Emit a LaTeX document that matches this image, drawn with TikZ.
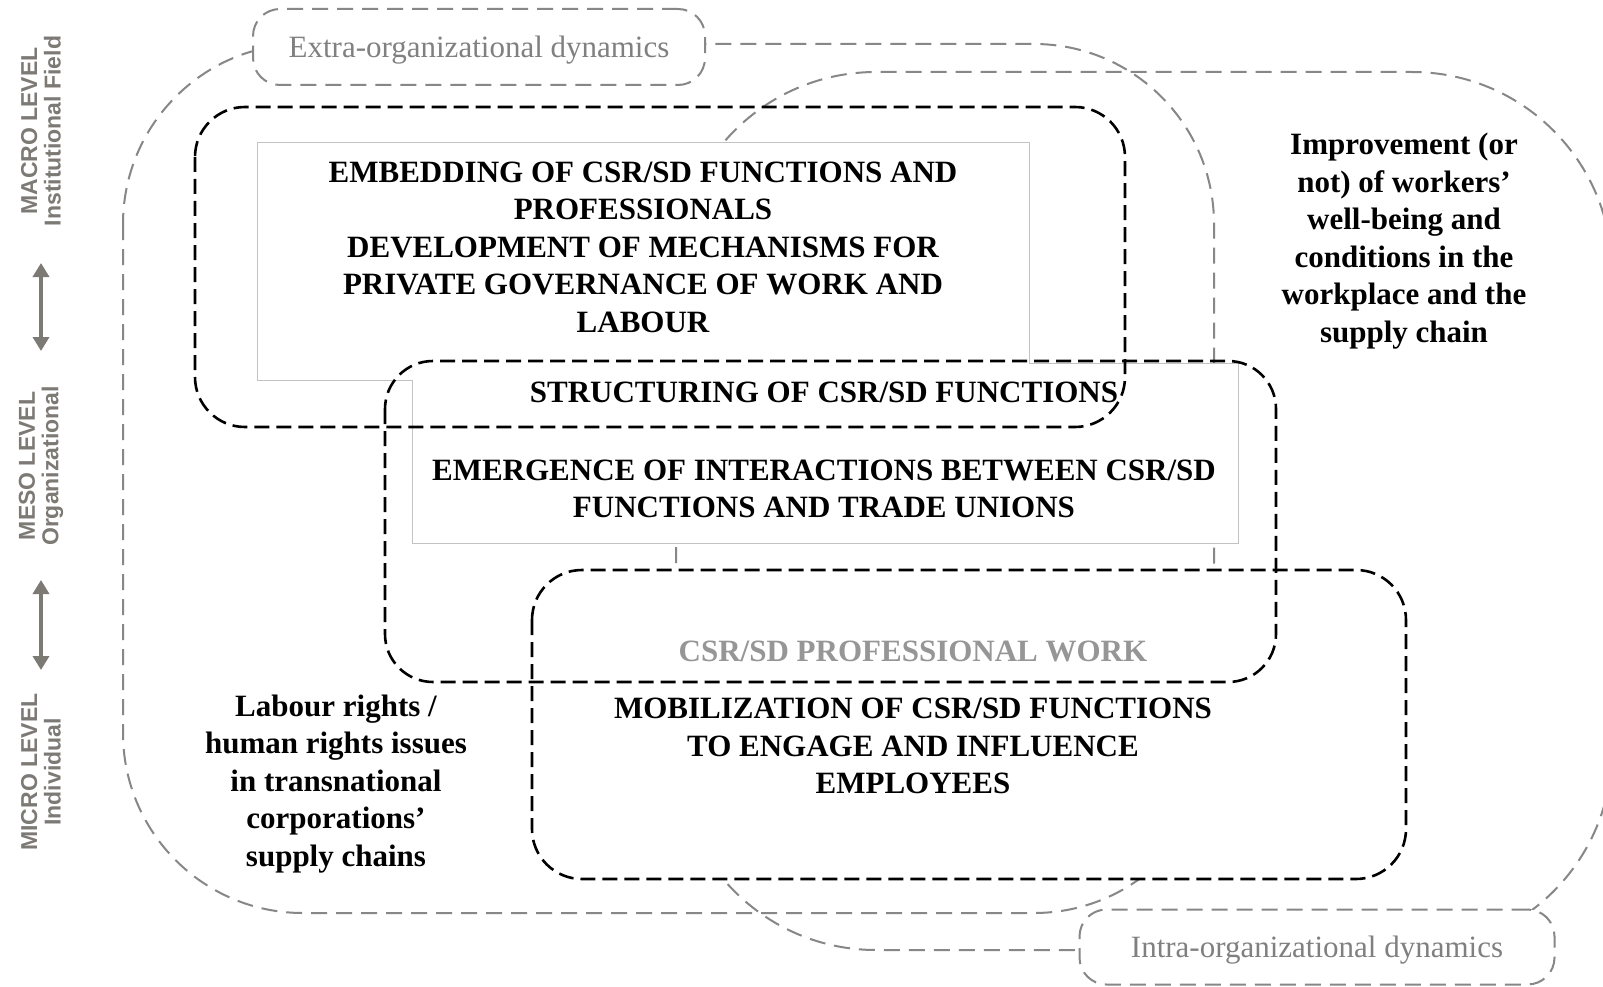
\documentclass[tikz,border=0pt]{standalone}
\usepackage{fontspec}
\setmainfont{Liberation Serif}
\newfontfamily\labelfont{Liberation Sans}
\usetikzlibrary{arrows.meta}
\definecolor{dashgray}{RGB}{135,135,135}
\definecolor{txtgray}{RGB}{128,128,128}
\definecolor{lvlgray}{RGB}{125,122,118}
\definecolor{rectgray}{RGB}{195,195,195}
\definecolor{profgray}{RGB}{150,150,150}
\begin{document}
\begin{tikzpicture}[x=1pt,y=-1pt,
  graydash/.style={draw=dashgray, line width=2pt, dash pattern=on 16pt off 9pt},
  blackdash/.style={draw=black, line width=2.6pt, dash pattern=on 15pt off 7pt},
  boldtxt/.style={font=\fontsize{31}{37.5}\selectfont\bfseries, align=center, inner sep=0pt},
  dynnode/.style={graydash, fill=white, rounded corners=27pt, inner sep=0pt,
    text depth=0pt, font=\fontsize{31}{37}\selectfont, text=txtgray},
  lvl/.style={rotate=90, align=center, inner sep=0pt, text=lvlgray,
    font=\labelfont\bfseries\fontsize{23}{23.5}\selectfont},
  lvlarrow/.style={draw=lvlgray, line width=4.5pt,
    {Triangle[width=16pt,length=14pt]}-{Triangle[width=16pt,length=14pt]}}
]
\useasboundingbox (0,0) rectangle (1603,987);
\fill[white] (0,0) rectangle (1603,987);

% gray dynamics outlines
\begin{scope}
\clip (0,0) rectangle (1603,987);
\draw[graydash, rounded corners=180pt] (123,44) rectangle (1214,913);
\draw[graydash, rounded corners=200pt] (676,72) rectangle (1612,950);
\end{scope}

% inner text panels (white, thin border)
\draw[draw=rectgray, line width=1pt, fill=white]
  (257,143) -- (1029,143) -- (1029,363) -- (1238,363) -- (1238,543)
  -- (412,543) -- (412,380) -- (257,380) -- cycle;

% white background of the bottom box
\fill[white, rounded corners=50pt] (532,570) rectangle (1406,879);

% black dashed boxes
\draw[blackdash, rounded corners=50pt] (195,107) rectangle (1125,427);
\draw[blackdash, rounded corners=48pt] (385,361) rectangle (1276,682);
\draw[blackdash, rounded corners=50pt] (532,570) rectangle (1406,879);

% dynamics labels
\node[dynnode, minimum width=452pt, minimum height=76pt] (extra) at (479,47)
  {Extra-organizational dynamics};
\node[dynnode, minimum width=475pt, minimum height=75pt] (intra) at (1317,947)
  {Intra-organizational dynamics};

% main texts
\node[boldtxt] (embed) at (643,247)
  {EMBEDDING OF CSR/SD FUNCTIONS AND\\PROFESSIONALS\\DEVELOPMENT OF MECHANISMS FOR\\PRIVATE GOVERNANCE OF WORK AND\\LABOUR};
\node[boldtxt] (struct) at (824,392) {STRUCTURING OF CSR/SD FUNCTIONS};
\node[boldtxt] (emerg) at (824,489)
  {EMERGENCE OF INTERACTIONS BETWEEN CSR/SD\\FUNCTIONS AND TRADE UNIONS};
\node[boldtxt, text=profgray] (prof) at (913,651) {CSR/SD PROFESSIONAL WORK};
\node[boldtxt] (mobil) at (913,746)
  {MOBILIZATION OF CSR/SD FUNCTIONS\\TO ENGAGE AND INFLUENCE\\EMPLOYEES};
\node[boldtxt] (improve) at (1404,241)
  {Improvement (or\\not) of workers’\\well-being and\\conditions in the\\workplace and the\\supply chain};
\node[boldtxt] (labour) at (336,784)
  {Labour rights /\\human rights issues\\in transnational\\corporations’\\supply chains};

% level labels
\node[lvl] (macro) at (41,131) {MACRO LEVEL\\Institutional Field};
\node[lvl] (meso) at (41,466) {MESO LEVEL\\Organizational};
\node[lvl] (micro) at (41,772) {MICRO LEVEL\\Individual};

\coordinate (a1top) at (41,263);
\coordinate (a1bot) at (41,351);
\coordinate (a2top) at (41,580);
\coordinate (a2bot) at (41,670);
\draw[lvlarrow] (a1top) -- (a1bot);
\draw[lvlarrow] (a2top) -- (a2bot);
\end{tikzpicture}
\end{document}
